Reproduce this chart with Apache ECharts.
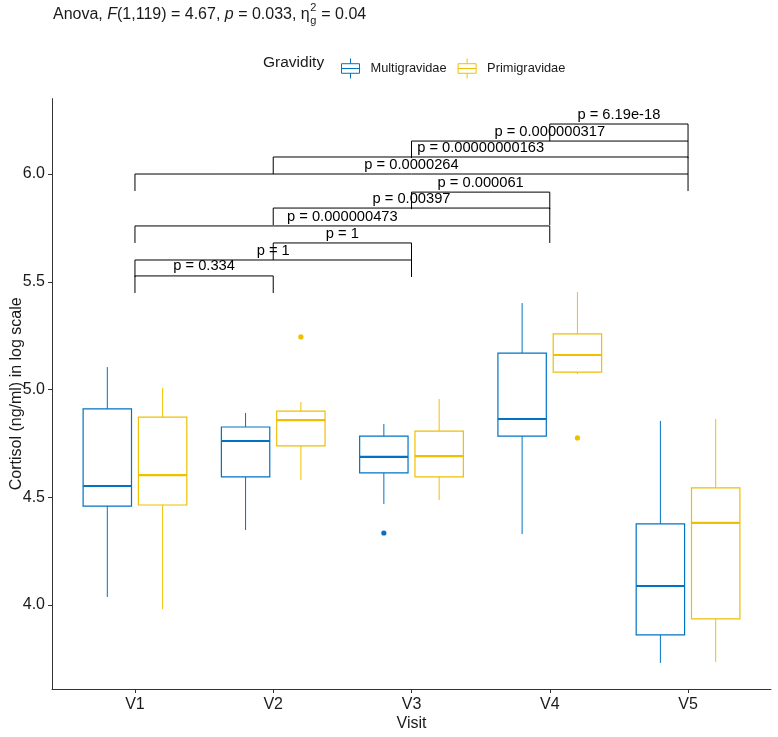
<!DOCTYPE html>
<html><head><meta charset="utf-8">
<script src="https://cdn.jsdelivr.net/npm/echarts@6/dist/echarts.min.js"></script>
<style>html,body{margin:0;padding:0;background:#fff}#c{width:778px;height:737px}</style>
</head><body><div id="c"></div>
<script>
const visits = ['V1','V2','V3','V4','V5'];
const groups = ['Multigravidae','Primigravidae'];
// [low whisker, Q1, median, Q3, high whisker] per visit
const multiStats = [
  [4.037, 4.459, 4.552, 4.910, 5.104],
  [4.348, 4.594, 4.761, 4.826, 4.891],
  [4.469, 4.613, 4.687, 4.784, 4.840],
  [4.329, 4.784, 4.863, 5.169, 5.401],
  [3.731, 3.861, 4.088, 4.376, 4.854]
];
const primiStats = [
  [3.981, 4.464, 4.603, 4.872, 5.007],
  [4.580, 4.738, 4.858, 4.900, 4.942],
  [4.487, 4.594, 4.691, 4.807, 4.956],
  [5.072, 5.081, 5.160, 5.258, 5.452],
  [3.735, 3.935, 4.381, 4.543, 4.863]
];
// [visit index, value]
const multiOutliers = [[2, 4.334]];
const primiOutliers = [[1, 5.244], [3, 4.775]];
// pairwise comparisons
const compPairs = [[0,1],[0,2],[1,2],[0,3],[1,3],[2,3],[0,4],[1,4],[2,4],[3,4]];
const compY = [5.527, 5.601, 5.680, 5.759, 5.842, 5.916, 6.000, 6.079, 6.153, 6.232];
const compLabels = ['p = 0.334','p = 1','p = 1','p = 0.000000473','p = 0.00397','p = 0.000061',
  'p = 0.0000264','p = 0.00000000163','p = 0.000000317','p = 6.19e-18'];
const yTicks = [4.0, 4.5, 5.0, 5.5, 6.0];
const xTicks = [0, 1, 2, 3, 4];

const BLUE = '#0073C2', YELLOW = '#EFC000';
const FONT = '"Liberation Sans", Arial, sans-serif';
const TXT = '#1a1a1a';

function boxRender(color, sign) {
  return function (params, api) {
    const i = api.value(0);
    const band = api.size([1, 0])[0];
    const cx = api.coord([i, 5])[0] + sign * band * 0.2;
    const hw = band * 0.175;
    const yl = api.coord([i, api.value(1)])[1];
    const yq1 = api.coord([i, api.value(2)])[1];
    const ym = api.coord([i, api.value(3)])[1];
    const yq3 = api.coord([i, api.value(4)])[1];
    const yh = api.coord([i, api.value(5)])[1];
    return { type: 'group', children: [
      { type: 'line', shape: { x1: cx, y1: yh, x2: cx, y2: yq3 }, style: { stroke: color, lineWidth: 1 } },
      { type: 'line', shape: { x1: cx, y1: yq1, x2: cx, y2: yl }, style: { stroke: color, lineWidth: 1 } },
      { type: 'rect', shape: { x: cx - hw, y: yq3, width: 2 * hw, height: yq1 - yq3 }, style: { fill: '#fff', stroke: color, lineWidth: 1.2 } },
      { type: 'line', shape: { x1: cx - hw, y1: ym, x2: cx + hw, y2: ym }, style: { stroke: color, lineWidth: 2.2 } }
    ]};
  };
}
function outlierRender(color, sign) {
  return function (params, api) {
    const band = api.size([1, 0])[0];
    const p = api.coord([api.value(0), api.value(1)]);
    return { type: 'circle', shape: { cx: p[0] + sign * band * 0.2, cy: p[1], r: 2.6 }, style: { fill: color } };
  };
}
function bracketRender(params, api) {
  const a = api.value(0), b = api.value(1), y = api.value(2);
  const p1 = api.coord([a, y]), p2 = api.coord([b, y]);
  const tipY = api.coord([a, y - 0.079])[1];
  return { type: 'group', children: [
    { type: 'polyline', shape: { points: [[p1[0], tipY], [p1[0], p1[1]], [p2[0], p2[1]], [p2[0], tipY]] },
      style: { stroke: '#000', lineWidth: 1, fill: null } },
    { type: 'text', x: (p1[0] + p2[0]) / 2, y: p1[1] - 9.5,
      style: { text: compLabels[api.value(3)], fill: '#000', font: '14.7px ' + FONT, align: 'center', verticalAlign: 'middle' } }
  ]};
}

// title pieces measured on canvas
const mctx = document.createElement('canvas').getContext('2d');
function w(text, font) { mctx.font = font; return mctx.measureText(text).width; }
const N = '16px ' + FONT, I = 'italic 16px ' + FONT, S = '11px ' + FONT;
const titleParts = [['Anova, ', N], ['F', I], ['(1,119) = 4.67, ', N], ['p', I], [' = 0.033, η', N]];
const titleEls = [];
let tx = 53; const ty = 15;
titleParts.forEach(function (p) {
  titleEls.push({ type: 'text', x: tx, y: ty, style: { text: p[0], font: p[1], fill: TXT, verticalAlign: 'middle' } });
  tx += w(p[0], p[1]);
});
titleEls.push({ type: 'text', x: tx + 0.5, y: ty + 6, style: { text: 'g', font: S, fill: TXT, verticalAlign: 'middle' } });
titleEls.push({ type: 'text', x: tx + 0.5, y: ty - 7, style: { text: '2', font: S, fill: TXT, verticalAlign: 'middle' } });
tx += Math.max(w('g', S), w('2', S)) + 1;
titleEls.push({ type: 'text', x: tx, y: ty, style: { text: ' = 0.04', font: N, fill: TXT, verticalAlign: 'middle' } });

const boxIcon = 'path://M2,6 L18,6 L18,17 L2,17 Z M2,11.5 L18,11.5 M10,0 L10,6 M10,17 L10,23';

const chart = echarts.init(document.getElementById('c'), null, { renderer: 'canvas' });
chart.setOption({
  animation: false,
  backgroundColor: '#fff',
  textStyle: { fontFamily: FONT },
  grid: { left: 52, right: 7, top: 98.6, bottom: 48, containLabel: false, outerBoundsMode: 'none' },
  legend: {
    left: 336, top: 53, itemWidth: 18, itemHeight: 20, itemGap: 11, symbolKeepAspect: false,
    textStyle: { fontSize: 12.8, color: TXT, padding: [0, 0, 0, 6] },
    data: [
      { name: groups[0], icon: boxIcon, itemStyle: { color: '#fff', borderColor: BLUE, borderWidth: 1 } },
      { name: groups[1], icon: boxIcon, itemStyle: { color: '#fff', borderColor: YELLOW, borderWidth: 1 } }
    ]
  },
  graphic: titleEls.concat([
    { type: 'text', x: 263, y: 63, style: { text: 'Gravidity', font: '15.5px ' + FONT, fill: TXT, verticalAlign: 'middle' } }
  ]),
  xAxis: {
    type: 'value', min: -0.6, max: 4.6,
    splitLine: { show: false },
    axisLine: { show: true, onZero: false, lineStyle: { color: '#333', width: 1 } },
    axisTick: { show: true, length: 4, customValues: xTicks, lineStyle: { color: '#333' } },
    axisLabel: { customValues: xTicks, formatter: function (v) { return visits[Math.round(v)]; }, fontSize: 16, color: TXT, margin: 8 },
    name: 'Visit', nameLocation: 'middle', nameGap: 27, nameMoveOverlap: false, nameTextStyle: { fontSize: 16, color: TXT }
  },
  yAxis: {
    type: 'value', min: 3.61, max: 6.35,
    splitLine: { show: false },
    axisLine: { show: true, onZero: false, lineStyle: { color: '#333', width: 1 } },
    axisTick: { show: true, length: 4, customValues: yTicks, lineStyle: { color: '#333' } },
    axisLabel: { customValues: yTicks, formatter: function (v) { return v.toFixed(1); }, fontSize: 16, color: TXT, margin: 7 },
    name: 'Cortisol (ng/ml) in log scale', nameLocation: 'middle', nameGap: 27, nameMoveOverlap: false, nameTextStyle: { fontSize: 16, color: TXT }
  },
  series: [
    { type: 'custom', name: groups[0], color: BLUE, renderItem: boxRender(BLUE, -1),
      encode: { x: 0, y: [1, 2, 3, 4, 5] }, data: multiStats.map(function (s, i) { return [i].concat(s); }) },
    { type: 'custom', name: groups[1], color: YELLOW, renderItem: boxRender(YELLOW, 1),
      encode: { x: 0, y: [1, 2, 3, 4, 5] }, data: primiStats.map(function (s, i) { return [i].concat(s); }) },
    { type: 'custom', name: groups[0], color: BLUE, renderItem: outlierRender(BLUE, -1),
      encode: { x: 0, y: 1 }, data: multiOutliers },
    { type: 'custom', name: groups[1], color: YELLOW, renderItem: outlierRender(YELLOW, 1),
      encode: { x: 0, y: 1 }, data: primiOutliers },
    { type: 'custom', name: 'comparisons', renderItem: bracketRender, silent: true,
      encode: { x: [0, 1], y: 2 }, data: compPairs.map(function (p, k) { return [p[0], p[1], compY[k], k]; }) }
  ]
});
</script>
</body></html>
